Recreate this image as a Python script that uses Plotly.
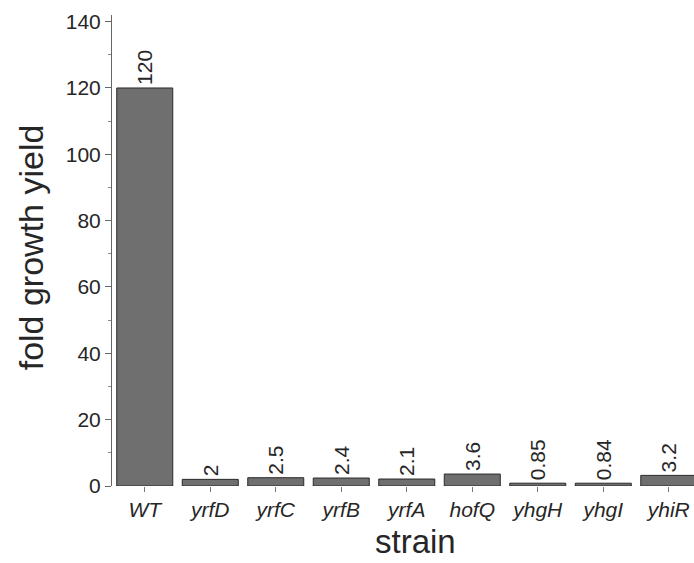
import plotly.graph_objects as go

strains = ["WT", "yrfD", "yrfC", "yrfB", "yrfA", "hofQ", "yhgH", "yhgI", "yhiR"]
fold_yield = [120, 2, 2.5, 2.4, 2.1, 3.6, 0.85, 0.84, 3.2]
value_labels = ["120", "2", "2.5", "2.4", "2.1", "3.6", "0.85", "0.84", "3.2"]
y_ticks = [0, 20, 40, 60, 80, 100, 120, 140]

FONT = "Liberation Sans, Arial, Helvetica, sans-serif"
TXT = "#262626"

fig = go.Figure(go.Bar(
    x=list(range(len(strains))),
    y=fold_yield,
    text=value_labels,
    textposition="outside",
    textangle=-90,
    cliponaxis=False,
    textfont=dict(family=FONT, size=21, color=TXT),
    marker=dict(color="#6f6f6f", line=dict(color="#2a2a2a", width=1)),
))

fig.update_layout(
    width=694, height=563,
    margin=dict(l=112, r=0, t=15, b=77),
    plot_bgcolor="white", paper_bgcolor="white",
    bargap=0.145,
    showlegend=False,
    font=dict(family=FONT, color=TXT),
)

fig.update_xaxes(
    range=[-0.5, 8.385],
    tickmode="array",
    tickvals=list(range(len(strains))),
    ticktext=[f"<i>{s}</i>" for s in strains],
    ticks="outside", ticklen=5, tickcolor="#777777", tickwidth=1,
    tickfont=dict(family=FONT, size=21, color=TXT),
    showline=False, showgrid=False, zeroline=False,
    automargin=False,
)

fig.update_yaxes(
    range=[0, 142],
    tickmode="array", tickvals=y_ticks,
    ticks="outside", ticklen=6, tickcolor="#666666", tickwidth=1,
    minor=dict(dtick=10, ticks="outside", ticklen=3, tickcolor="#888888", showgrid=False),
    tickfont=dict(family=FONT, size=21, color=TXT),
    showline=True, linecolor="#666666", linewidth=1,
    showgrid=False, zeroline=False,
    automargin=False,
)

fig.add_annotation(
    text="strain", xref="paper", yref="paper", x=0.522, y=-0.117,
    showarrow=False, font=dict(family=FONT, size=33, color=TXT),
    xanchor="center", yanchor="middle",
)
fig.add_annotation(
    text="fold growth yield", xref="paper", yref="paper", x=-0.139, y=0.507,
    showarrow=False, textangle=-90, font=dict(family=FONT, size=34, color=TXT),
    xanchor="center", yanchor="middle",
)

fig.write_html(
    "out.html",
    config={"displayModeBar": False},
    post_script="document.body.style.margin='0';document.body.style.overflow='hidden';",
)
